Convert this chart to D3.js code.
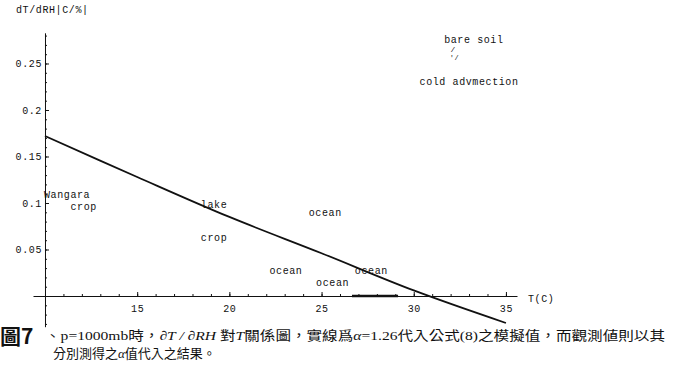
<html>
<head>
<meta charset="utf-8">
<script src="https://d3js.org/d3.v7.min.js"></script>
<style>
  body { margin: 0; background: #fff; }
  .plot text { font-family: "Liberation Mono", monospace; font-size: 10px; letter-spacing: 0.6px; fill: #111; }
  .axis path, .axis line { stroke: #111; }
  .caption { font-family: "Noto Sans CJK TC", sans-serif; fill: #111; }
</style>
</head>
<body>
<svg width="684" height="376"></svg>
<script>
// model curve, alpha = 1.26
var curveT = [10, 15, 20, 25, 30, 35];
var curveV = [0.172, 0.128, 0.085, 0.046, 0.006, -0.029];

// observation labels placed at their (T, dT/dRH) values
var obsNames = ["Wangara", "crop", "lake", "crop", "ocean", "ocean", "ocean", "ocean", "bare soil", "cold advmection"];
var obsT     = [11.2, 12.1, 19.17, 19.17, 25.2, 23.07, 27.7, 25.6, 33.26, 33.0];
var obsV     = [0.109, 0.096, 0.098, 0.063, 0.090, 0.027, 0.027, 0.014, 0.276, 0.231];

var xTicks = [15, 20, 25, 30, 35];
var yTicks = [0.05, 0.1, 0.15, 0.2, 0.25];

var svg = d3.select("svg");
var g = svg.append("g").attr("class", "plot");

var x = d3.scaleLinear().domain([9.35, 35.6]).range([33, 517]);
var y = d3.scaleLinear().domain([-0.033, 0.283]).range([326.7, 32.8]);

// minor ticks
g.append("g").attr("class", "axis")
  .attr("transform", "translate(0," + y(0) + ")")
  .call(d3.axisBottom(x).tickValues(d3.range(10, 36, 1)).tickSize(-2).tickFormat(""))
  .select(".domain").remove();
g.append("g").attr("class", "axis")
  .attr("transform", "translate(" + x(10) + ",0)")
  .call(d3.axisLeft(y).tickValues(d3.range(-3, 29, 1).map(function(d){ return d / 100; })).tickSize(-2).tickFormat(""))
  .select(".domain").remove();

// major axes
g.append("g").attr("class", "axis")
  .attr("transform", "translate(0," + y(0) + ")")
  .call(d3.axisBottom(x).tickValues(xTicks).tickSize(-4).tickSizeOuter(0).tickPadding(9).tickFormat(function(d){ return d; }))
  .selectAll("text").attr("fill", "#111");
g.append("g").attr("class", "axis")
  .attr("transform", "translate(" + x(10) + ",0)")
  .call(d3.axisLeft(y).tickValues(yTicks).tickSize(-4).tickSizeOuter(0).tickPadding(3).tickFormat(function(d){ return String(+d.toFixed(2)); }))
  .selectAll("text").attr("fill", "#111");
g.selectAll(".axis text").style("font-family", "Liberation Mono, monospace").style("font-size", "10px");

// thick piece on the T axis
g.append("line")
  .attr("x1", x(26.65)).attr("x2", x(29.15))
  .attr("y1", y(0)).attr("y2", y(0))
  .attr("stroke", "#111").attr("stroke-width", 2.5);

// axis titles
g.append("text").attr("x", 16).attr("y", 13).text("dT/dRH|C/%|");
g.append("text").attr("x", 528).attr("y", 302).text("T(C)");

// curve
var pts = curveT.map(function(t, i){ return [t, curveV[i]]; });
g.append("path")
  .datum(pts)
  .attr("fill", "none")
  .attr("stroke", "#111")
  .attr("stroke-width", 1.8)
  .attr("d", d3.line().x(function(d){ return x(d[0]); }).y(function(d){ return y(d[1]); }).curve(d3.curveCatmullRom));

// observation labels
g.selectAll(".obs")
  .data(obsNames)
  .enter().append("text")
  .attr("class", "obs")
  .attr("x", function(d, i){ return x(obsT[i]); })
  .attr("y", function(d, i){ return y(obsV[i]); })
  .attr("dy", "0.35em")
  .attr("text-anchor", "middle")
  .text(function(d){ return d; });

// little marks under "bare soil"
g.append("text").attr("x", x(32.0)).attr("y", y(0.262)).style("font-size", "8px").text("/");
g.append("text").attr("x", x(31.95)).attr("y", y(0.254)).style("font-size", "7px").text("'/");

// caption
var cap = svg.append("g").attr("class", "caption");
cap.append("text").attr("x", 0).attr("y", 344)
  .style("font-size", "21px").style("font-weight", "bold")
  .text("圖7");
var l1 = cap.append("text").attr("x", 45).attr("y", 340).style("font-size", "13px")
  .attr("textLength", 620).attr("lengthAdjust", "spacingAndGlyphs");
l1.append("tspan").text("、");
l1.append("tspan").style("font-family", "Liberation Serif, serif").text("p=1000mb");
l1.append("tspan").text("時，");
l1.append("tspan").style("font-family", "Liberation Serif, serif").style("font-style", "italic").text("∂T / ∂RH ");
l1.append("tspan").text("對");
l1.append("tspan").style("font-family", "Liberation Serif, serif").style("font-style", "italic").text("T");
l1.append("tspan").text("關係圖，實線爲");
l1.append("tspan").style("font-family", "Liberation Serif, serif").style("font-style", "italic").text("α");
l1.append("tspan").style("font-family", "Liberation Serif, serif").text("=1.26");
l1.append("tspan").text("代入公式");
l1.append("tspan").style("font-family", "Liberation Serif, serif").text("(8)");
l1.append("tspan").text("之模擬值，而觀測値則以其");

var l2 = cap.append("text").attr("x", 53).attr("y", 358).style("font-size", "13px");
l2.append("tspan").text("分別測得之");
l2.append("tspan").style("font-family", "Liberation Serif, serif").style("font-style", "italic").text("α");
l2.append("tspan").text("值代入之結果。");
</script>
</body>
</html>
